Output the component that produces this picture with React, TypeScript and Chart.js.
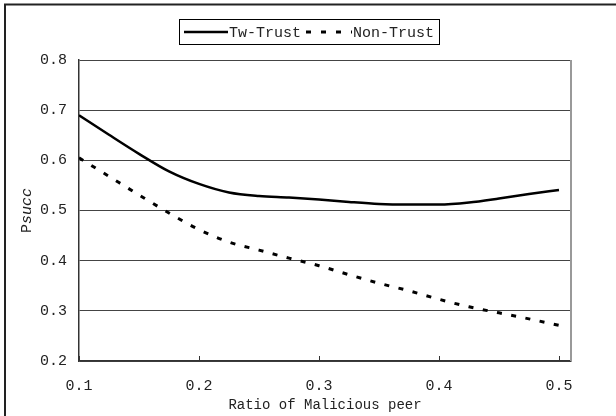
import React, { useEffect, useRef } from "react";
import { Chart, registerables } from "chart.js";

Chart.register(...registerables);

const xValues = [0.1, 0.125, 0.15, 0.175, 0.2, 0.225, 0.25, 0.275, 0.3, 0.325, 0.35, 0.375, 0.4, 0.425, 0.45, 0.475, 0.5];
const twTrust = [0.69, 0.651, 0.613, 0.578, 0.553, 0.536, 0.529, 0.526, 0.522, 0.517, 0.513, 0.512, 0.512, 0.516, 0.524, 0.533, 0.541];
const nonTrust = [0.605, 0.568, 0.531, 0.495, 0.462, 0.437, 0.421, 0.405, 0.39, 0.372, 0.355, 0.34, 0.323, 0.308, 0.296, 0.284, 0.271];
const xTicks = [0.1, 0.2, 0.3, 0.4, 0.5];
const yTicks = [0.2, 0.3, 0.4, 0.5, 0.6, 0.7, 0.8];
const seriesNames = ["Tw-Trust", "Non-Trust"];
const xTitle = "Ratio of Malicious peer";

const FONT = "'Liberation Mono', 'DejaVu Sans Mono', monospace";
const TEXT = "#222";

const decorPlugin = {
  id: "decor",
  beforeDraw(chart: any) {
    const ctx = chart.ctx;
    ctx.save();
    ctx.fillStyle = "#fff";
    ctx.fillRect(0, 0, chart.width, chart.height);
    ctx.strokeStyle = "#222";
    ctx.lineWidth = 2;
    ctx.strokeRect(5, 4.5, chart.width + 20, chart.height + 20);
    ctx.restore();
  },
  afterDraw(chart: any) {
    const ctx = chart.ctx;
    const a = chart.chartArea;
    const xs = chart.scales.x;
    ctx.save();
    ctx.strokeStyle = "#999";
    ctx.lineWidth = 2;
    ctx.beginPath();
    ctx.moveTo(a.right, a.top);
    ctx.lineTo(a.right, a.bottom);
    ctx.stroke();
    ctx.strokeStyle = "#333";
    ctx.lineWidth = 1;
    xTicks.forEach((v) => {
      const px = Math.round(xs.getPixelForValue(v)) + 0.5;
      ctx.beginPath();
      ctx.moveTo(px, a.bottom);
      ctx.lineTo(px, a.bottom - 5);
      ctx.stroke();
    });
    ctx.fillStyle = TEXT;
    ctx.font = `14px ${FONT}`;
    ctx.textAlign = "center";
    ctx.textBaseline = "middle";
    ctx.fillText(xTitle, (a.left + a.right) / 2, 405);
    ctx.save();
    ctx.translate(27, (a.top + a.bottom) / 2);
    ctx.rotate(-Math.PI / 2);
    ctx.font = `15px ${FONT}`;
    const w1 = ctx.measureText("P").width;
    ctx.font = `italic 15px ${FONT}`;
    const w2 = ctx.measureText("succ").width;
    const start = -(w1 + w2) / 2;
    ctx.textAlign = "left";
    ctx.font = `15px ${FONT}`;
    ctx.fillText("P", start, 0);
    ctx.font = `italic 15px ${FONT}`;
    ctx.fillText("succ", start + w1, 0);
    ctx.restore();
    const bx = 179.5, by = 19.5, bw = 260, bh = 25;
    ctx.strokeStyle = "#000";
    ctx.lineWidth = 1;
    ctx.strokeRect(bx, by, bw, bh);
    const cy = by + bh / 2;
    ctx.lineWidth = 2.5;
    ctx.beginPath();
    ctx.moveTo(184, cy);
    ctx.lineTo(228, cy);
    ctx.stroke();
    ctx.lineWidth = 3;
    ctx.setLineDash([5, 10]);
    ctx.beginPath();
    ctx.moveTo(306, cy);
    ctx.lineTo(352, cy);
    ctx.stroke();
    ctx.setLineDash([]);
    ctx.font = `15px ${FONT}`;
    ctx.textAlign = "left";
    ctx.fillStyle = TEXT;
    ctx.fillText(seriesNames[0], 229, cy + 1);
    ctx.fillText(seriesNames[1], 353, cy + 1);
    ctx.restore();
  },
};

export default function App() {
  const ref = useRef<HTMLCanvasElement | null>(null);
  useEffect(() => {
    document.body.style.margin = "0";
    const canvas = ref.current!;
    const chart = new Chart(canvas, {
      type: "line",
      data: {
        datasets: [
          {
            label: seriesNames[0],
            data: xValues.map((x, i) => ({ x, y: twTrust[i] })),
            borderColor: "#000",
            borderWidth: 2.5,
            pointRadius: 0,
            cubicInterpolationMode: "monotone",
            fill: false,
          },
          {
            label: seriesNames[1],
            data: xValues.map((x, i) => ({ x, y: nonTrust[i] })),
            borderColor: "#000",
            borderWidth: 3,
            borderDash: [5, 9.5],
            pointRadius: 0,
            cubicInterpolationMode: "monotone",
            fill: false,
          },
        ],
      },
      options: {
        animation: false,
        responsive: false,
        maintainAspectRatio: false,
        layout: { padding: { left: 0, right: 45, top: 60, bottom: 0 } },
        plugins: { legend: { display: false }, tooltip: { enabled: false }, title: { display: false } },
        scales: {
          x: {
            type: "linear",
            min: 0.1,
            max: 0.51,
            afterBuildTicks: (s: any) => {
              s.ticks = xTicks.map((v) => ({ value: v }));
            },
            afterFit: (s: any) => {
              s.height = 55;
            },
            grid: { display: false, drawTicks: false },
            border: { display: true, color: "#333", width: 1.5 },
            ticks: {
              padding: 16,
              color: TEXT,
              font: { family: FONT, size: 15 },
              maxRotation: 0,
              autoSkip: false,
              callback: (v: any) => Number(v).toFixed(1),
            },
          },
          y: {
            type: "linear",
            min: 0.2,
            max: 0.8,
            afterBuildTicks: (s: any) => {
              s.ticks = yTicks.map((v) => ({ value: v }));
            },
            afterFit: (s: any) => {
              s.width = 79;
            },
            grid: { color: "#444", lineWidth: 1, drawTicks: false },
            border: { display: true, color: "#333", width: 1.5 },
            ticks: {
              padding: 12,
              color: TEXT,
              font: { family: FONT, size: 15 },
              callback: (v: any) => Number(v).toFixed(1),
            },
          },
        },
      },
      plugins: [decorPlugin],
    } as any);
    return () => chart.destroy();
  }, []);
  return (
    <div style={{ width: 616, height: 416 }}>
      <canvas ref={ref} width={616} height={416} style={{ display: "block", width: 616, height: 416 }} />
    </div>
  );
}
